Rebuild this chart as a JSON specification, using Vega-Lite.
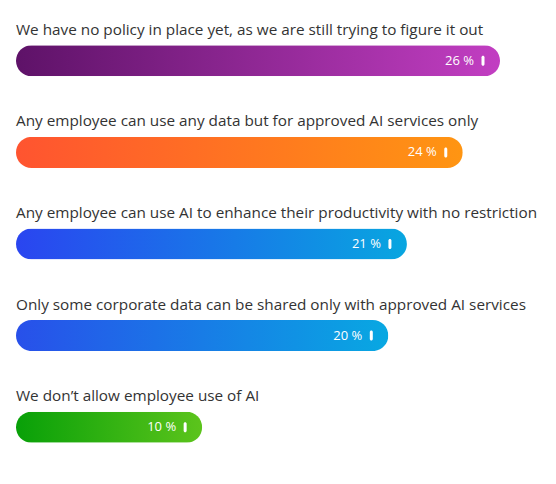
{
  "$schema": "https://vega.github.io/schema/vega-lite/v6.json",
  "autosize": "none",
  "padding": {"left": 16, "top": 15, "right": 56, "bottom": 11},
  "width": 484,
  "height": 458,
  "background": "white",
  "config": {
    "view": {"stroke": null},
    "font": "Open Sans"
  },
  "data": {
    "values": [
      {"answer": "We have no policy in place yet, as we are still trying to figure it out", "share": 26, "label": "26 %"},
      {"answer": "Any employee can use any data but for approved AI services only", "share": 24, "label": "24 %"},
      {"answer": "Any employee can use AI to enhance their productivity with no restriction", "share": 21, "label": "21 %"},
      {"answer": "Only some corporate data can be shared only with approved AI services", "share": 20, "label": "20 %"},
      {"answer": "We don’t allow employee use of AI", "share": 10, "label": "10 %"}
    ]
  },
  "encoding": {
    "y": {
      "field": "answer",
      "type": "nominal",
      "sort": null,
      "scale": {"paddingInner": 0, "paddingOuter": 0},
      "axis": null
    }
  },
  "layer": [
    {
      "mark": {"type": "bar", "height": 31, "cornerRadius": 15.5},
      "encoding": {
        "x": {
          "field": "share",
          "type": "quantitative",
          "scale": {"domain": [0, 26], "nice": false},
          "axis": null
        },
        "fill": {
          "condition": [
            {
              "test": "datum.share == 26",
              "value": {"gradient": "linear", "x1": 0, "x2": 1, "y1": 0, "y2": 0,
                "stops": [{"offset": 0, "color": "#5e1268"}, {"offset": 1, "color": "#c23ec2"}]}
            },
            {
              "test": "datum.share == 24",
              "value": {"gradient": "linear", "x1": 0, "x2": 1, "y1": 0, "y2": 0,
                "stops": [{"offset": 0, "color": "#ff5430"}, {"offset": 1, "color": "#ff9512"}]}
            },
            {
              "test": "datum.share == 21",
              "value": {"gradient": "linear", "x1": 0, "x2": 1, "y1": 0, "y2": 0,
                "stops": [{"offset": 0, "color": "#2a45f0"}, {"offset": 1, "color": "#08a6e0"}]}
            },
            {
              "test": "datum.share == 20",
              "value": {"gradient": "linear", "x1": 0, "x2": 1, "y1": 0, "y2": 0,
                "stops": [{"offset": 0, "color": "#2850ea"}, {"offset": 1, "color": "#08a8e2"}]}
            }
          ],
          "value": {"gradient": "linear", "x1": 0, "x2": 1, "y1": 0, "y2": 0,
            "stops": [{"offset": 0, "color": "#08a008"}, {"offset": 1, "color": "#5cc41c"}]}
        }
      }
    },
    {
      "mark": {"type": "text", "align": "right", "baseline": "middle", "dx": -26, "fontSize": 13, "fontWeight": 500, "color": "white"},
      "encoding": {
        "x": {"field": "share", "type": "quantitative"},
        "text": {"field": "label"}
      }
    },
    {
      "mark": {"type": "tick", "orient": "vertical", "thickness": 3, "size": 10, "xOffset": -17, "color": "white", "opacity": 1, "cornerRadius": 1.5},
      "encoding": {
        "x": {"field": "share", "type": "quantitative"}
      }
    },
    {
      "mark": {"type": "text", "align": "left", "baseline": "alphabetic", "dy": -26, "fontSize": 15.3, "color": "#333333"},
      "encoding": {
        "x": {"datum": 0, "type": "quantitative"},
        "text": {"field": "answer"}
      }
    }
  ]
}
